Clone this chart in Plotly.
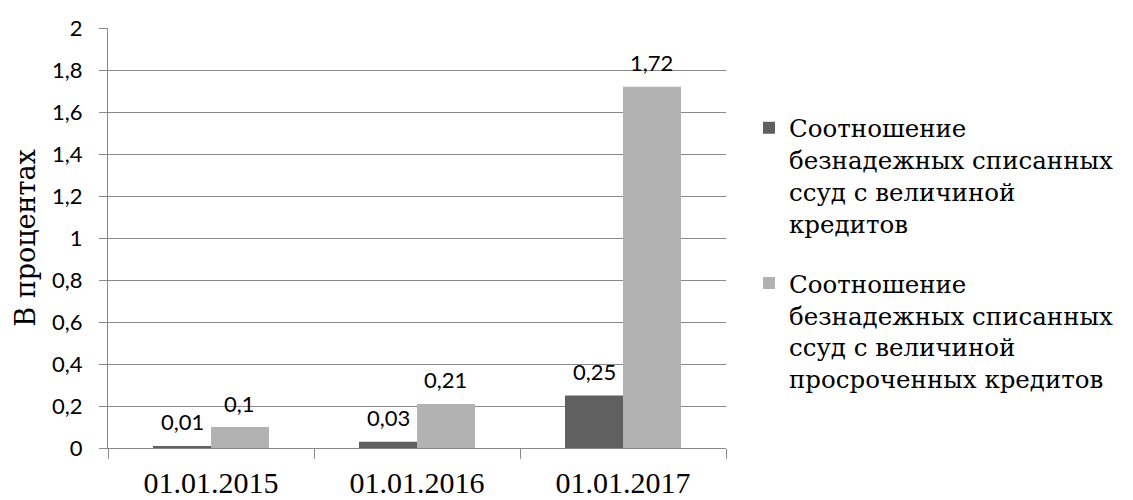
import plotly.graph_objects as go

categories = ["01.01.2015", "01.01.2016", "01.01.2017"]
series_names = [
    "Соотношение<br>безнадежных списанных<br>ссуд с величиной<br>кредитов",
    "Соотношение<br>безнадежных списанных<br>ссуд с величиной<br>просроченных кредитов",
]
values_loans = [0.01, 0.03, 0.25]
values_overdue = [0.1, 0.21, 1.72]
label_loans = ["0,01", "0,03", "0,25"]
label_overdue = ["0,1", "0,21", "1,72"]
y_ticks = [0, 0.2, 0.4, 0.6, 0.8, 1, 1.2, 1.4, 1.6, 1.8, 2]
y_ticktext = ["0", "0,2", "0,4", "0,6", "0,8", "1", "1,2", "1,4", "1,6", "1,8", "2"]

colors = ["#606060", "#b2b2b2"]
GRID = "#8a8a8a"
SERIF = "Liberation Serif, Times New Roman, serif"
SERIF_CYR = "DejaVu Serif, serif"
SANS = "Lato, Carlito, Open Sans, sans-serif"

W, H = 1133, 500
ML, MR, MT, MB = 108, 407, 28, 52
BARGAP = 0.437
plot_w = W - ML - MR
bar_px = plot_w / len(categories) * (1 - BARGAP) / 2

fig = go.Figure()
for i, (name, vals) in enumerate([(series_names[0], values_loans), (series_names[1], values_overdue)]):
    fig.add_trace(go.Bar(
        x=categories, y=vals, name=name, marker_color=colors[i],
        marker_line_width=0, legendgroup=f"g{i}",
    ))

annotations = []
for vals, labels, sign in [(values_loans, label_loans, -1), (values_overdue, label_overdue, 1)]:
    for c, v, t in zip(categories, vals, labels):
        annotations.append(dict(
            x=c, y=v, xref="x", yref="y", text=t, showarrow=False,
            xshift=sign * bar_px / 2, yshift=24, yanchor="middle",
            font=dict(family=SANS, size=22, color="#000000"),
        ))

fig.update_layout(
    width=W, height=H,
    margin=dict(l=ML, r=MR, t=MT, b=MB),
    paper_bgcolor="white", plot_bgcolor="white",
    barmode="group", bargap=BARGAP, bargroupgap=0,
    separators=", ",
    showlegend=True,
    legend=dict(
        x=(749 - ML) / plot_w, xanchor="left", y=0.816, yanchor="top",
        font=dict(family=SERIF_CYR, size=24.5, color="#000000"),
        valign="top", tracegroupgap=25, bgcolor="rgba(0,0,0,0)",
        itemclick=False, itemdoubleclick=False,
    ),
    annotations=annotations,
)

fig.update_xaxes(
    type="category", showline=True, linecolor=GRID, linewidth=1.3,
    ticks="outside", tickson="boundaries", ticklen=10, tickcolor=GRID, tickwidth=1.3,
    showgrid=False, tickfont=dict(family=SERIF, size=30, color="#000000"),
    ticklabelstandoff=8, automargin=False,
)
fig.update_yaxes(
    range=[0, 2], tickvals=y_ticks, ticktext=y_ticktext,
    showline=True, linecolor=GRID, linewidth=1.3,
    ticks="outside", ticklen=8, tickcolor=GRID, tickwidth=1.3,
    showgrid=True, gridcolor=GRID, gridwidth=1.3, zeroline=False,
    tickfont=dict(family=SANS, size=22, color="#000000"),
    ticklabelstandoff=12, automargin=False,
    title=dict(text="В процентах", font=dict(family=SERIF_CYR, size=27, color="#000000"), standoff=8),
)

fig.write_html("out.html", config={"displayModeBar": False})
